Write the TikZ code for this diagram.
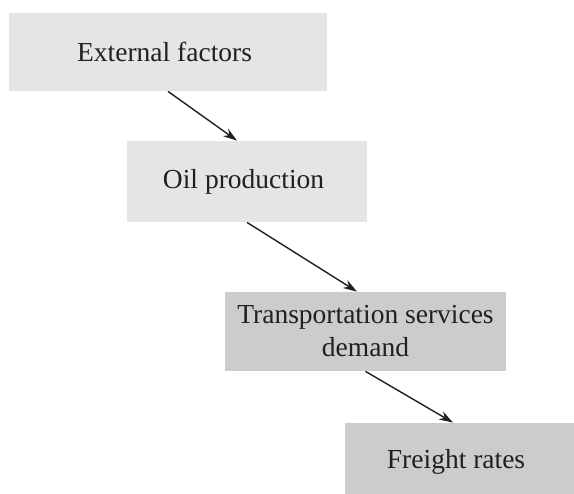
\documentclass[tikz,border=0pt]{standalone}
\usepackage{fontspec}
\setmainfont{Liberation Serif}
\usepackage{tikz}
\usetikzlibrary{arrows.meta}
\definecolor{light}{RGB}{228, 229, 231}
\definecolor{mid}{RGB}{204, 204, 206}
\definecolor{ink}{RGB}{32, 32, 32}

\begin{document}
\begin{tikzpicture}[x=1pt, y=-1pt, thick]
  \useasboundingbox (0, 0) rectangle (574, 494);
  \tikzset{box/.style={inner sep=0, text=ink, align=center,
      font=\fontsize{27.5}{33}\selectfont}}

  \node[box, fill=light, minimum width=318pt, minimum height=78pt] (ext) at (168, 52) { External factors };
  \node[box, fill=light, minimum width=240pt, minimum height=81pt] (oil) at (247, 181.5) { Oil production };
  \node[box, fill=mid, minimum width=281pt, minimum height=79pt] (dem) at (365.5, 331.5) { Transportation services\\demand };
  \node[box, fill=mid, minimum width=229pt, minimum height=78pt] (rate) at (459.5, 462) { Freight rates };

  \draw [->, >={Stealth[length=14pt, width=9pt]}, color=ink, line width=1.4] (ext.south) -- ([xshift=-10pt]oil.north);
  \draw [->, >={Stealth[length=14pt, width=9pt]}, color=ink, line width=1.4] (oil.south) -- ([xshift=-8.5pt]dem.north);
  \draw [->, >={Stealth[length=14pt, width=9pt]}, color=ink, line width=1.4] (dem.south) -- ([xshift=-6.5pt]rate.north);

\end{tikzpicture}
\end{document}
